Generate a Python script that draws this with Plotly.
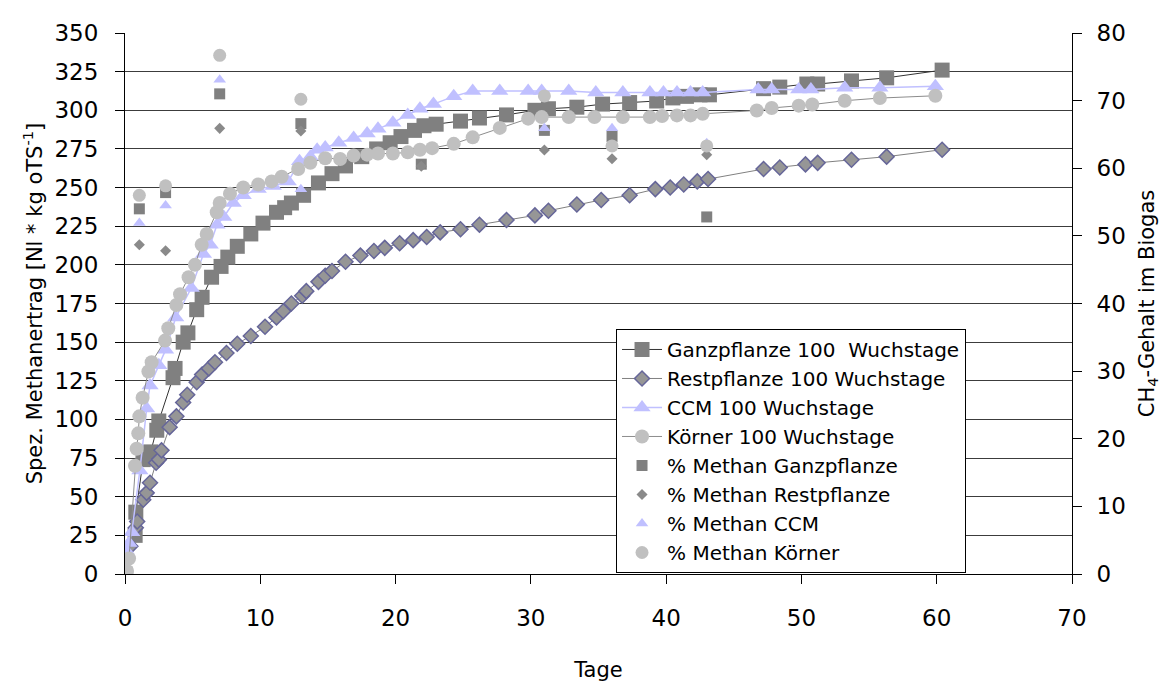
import plotly.graph_objects as go

# ---------------- data ----------------
ganz_x = [0, 0.75, 0.8, 1.35, 1.9, 2.35, 2.5, 3.55, 3.7, 4.3,
          4.65, 5.3, 5.7, 6.4, 7.1, 7.6, 8.3, 9.3, 10.2, 11.2,
          11.8, 12.3, 13.2, 14.3, 15.3, 16.3, 17.5, 18.6, 19.6, 20.4,
          21.4, 22.1, 23.0, 24.8, 26.2, 28.2, 30.3, 31.3, 33.4, 35.3,
          37.3, 39.3, 40.5, 41.5, 42.5, 43.2, 47.2, 48.4, 50.4, 51.2,
          53.7, 56.3, 60.4]
ganz_y = [0, 25, 40, 74, 79, 93, 99, 127, 133, 150,
          156, 171, 179, 192, 199, 205, 212, 220, 227, 234,
          237, 240, 245, 253, 259, 264, 270, 275, 279, 283,
          287, 290, 291, 293, 295, 297, 300, 301, 302, 304,
          305, 306, 308, 309, 310, 310, 314, 315, 317, 317,
          319, 321, 326]

rest_x = [0, 0.4, 0.8, 0.9, 1.35, 1.6, 1.85, 2.3, 2.5, 2.7,
          3.3, 3.8, 4.3, 4.6, 5.3, 5.7, 6.2, 6.65, 7.5, 8.3,
          9.3, 10.35, 11.2, 11.7, 12.3, 13.1, 13.4, 14.3, 14.8, 15.3,
          16.3, 17.4, 18.4, 19.2, 20.3, 21.3, 22.3, 23.3, 24.8, 26.2,
          28.2, 30.3, 31.3, 33.4, 35.2, 37.3, 39.2, 40.3, 41.3, 42.3,
          43.1, 47.2, 48.4, 50.3, 51.2, 53.7, 56.3, 60.4]
rest_y = [0, 18, 30, 34, 48, 52.5, 59, 72, 74, 80,
          95, 102, 111, 116, 124, 129, 133, 137, 143, 149,
          154, 160, 166, 170, 175, 180, 183, 189, 193, 196,
          202, 206, 209, 211, 214, 216, 218, 221, 223, 226,
          229, 232, 235, 239, 242, 245, 249, 250, 252, 254,
          255.5, 262, 263, 265, 266, 268, 270, 274.5]

ccm_x = [0, 0.1, 0.3, 0.5, 1.1, 1.6, 1.85, 2.5, 3.0, 3.75,
         4.9, 5.8, 6.3, 6.8, 7.3, 8.0, 8.74, 9.85, 10.96, 12.07,
         12.9, 13.7, 14.2, 14.8, 15.8, 16.9, 17.9, 18.7, 19.8, 20.9,
         21.8, 22.8, 24.3, 25.7, 27.7, 29.8, 30.8, 32.8, 34.8, 36.8,
         38.8, 39.8, 40.8, 41.8, 42.7, 46.8, 47.8, 49.8, 50.7, 53.2,
         55.8, 59.9]
ccm_y = [0, 15, 20, 27, 67, 107, 122, 135, 145, 166,
         185, 207, 213, 226, 231, 240, 245, 249, 251, 254,
         267, 270, 274.5, 276, 279, 282, 285, 288, 292, 297,
         301, 304, 309, 312.5, 312.5, 312.5, 312.5, 312.5, 311.5, 311.5,
         311.5, 311.5, 311.5, 311.5, 311.5, 313.5, 313.5, 313.5, 313.5, 314.5,
         314.5, 315.5]

koern_x = [0, 0.15, 0.3, 0.74, 0.86, 0.98, 1.06, 1.3, 1.73, 1.97,
           2.96, 3.2, 3.8, 4.07, 4.7, 5.17, 5.67, 6.04, 6.78, 7.0,
           7.76, 8.74, 9.85, 10.84, 11.58, 12.8, 13.7, 14.8, 15.9, 16.9,
           17.9, 18.7, 19.8, 20.9, 21.8, 22.7, 24.3, 25.7, 27.7, 29.8,
           30.8, 32.8, 34.7, 36.8, 38.8, 39.7, 40.8, 41.8, 42.7, 46.7,
           47.8, 49.8, 50.8, 53.2, 55.8, 59.9]
koern_y = [0, 2, 10, 70, 81, 91, 102, 114, 131, 137,
           151, 159, 174, 181, 192, 200, 213, 220, 234, 240,
           246, 250, 252, 254, 257, 262, 266, 269, 268.5, 270.7,
           271.3, 272, 272, 272.8, 274.5, 275.5, 278.3, 282.5, 288.6, 294.6,
           295.6, 295.6, 295.6, 295.6, 295.6, 296.3, 296.7, 296.7, 297.7, 299.9,
           301.5, 303, 303.7, 306.2, 307.9, 309.4]

meth_days = [1.06, 3.0, 7.0, 13.0, 21.9, 31.0, 36.0, 43.0]
meth_ganz = [54.0, 56.4, 71.0, 66.6, 60.6, 65.6, 64.7, 52.8]
meth_rest = [48.7, 47.8, 65.9, 65.5, 60.3, 62.7, 61.4, 62.0]
meth_ccm = [51.9, 54.5, 73.1, 56.9, None, 65.9, 65.9, 63.7]
meth_koern = [56.0, 57.4, 76.7, 70.2, None, 70.7, 63.3, 63.3]

x_ticks = [0, 10, 20, 30, 40, 50, 60, 70]
y_ticks = list(range(0, 351, 25))
y2_ticks = list(range(0, 81, 10))

FONT = "DejaVu Sans"

fig = go.Figure()

fig.add_trace(go.Scatter(
    x=ganz_x, y=ganz_y, mode="lines+markers",
    name="Ganzpflanze 100\u00a0 Wuchstage",
    line=dict(color="#333333", width=1),
    marker=dict(symbol="square", size=15, color="#808080",
                line=dict(width=0))))
fig.add_trace(go.Scatter(
    x=rest_x, y=rest_y, mode="lines+markers",
    name="Restpflanze 100 Wuchstage",
    line=dict(color="#808080", width=1),
    marker=dict(symbol="diamond", size=11.5, color="#969696",
                line=dict(width=1.5, color="#666699"))))
fig.add_trace(go.Scatter(
    x=ccm_x, y=ccm_y, mode="lines+markers",
    name="CCM 100 Wuchstage",
    line=dict(color="#C0C0FF", width=1.5),
    marker=dict(symbol="triangle-up", size=15, color="#C0C0FF",
                line=dict(width=0))))
fig.add_trace(go.Scatter(
    x=koern_x, y=koern_y, mode="lines+markers",
    name="Körner 100 Wuchstage",
    line=dict(color="#8c8c8c", width=1),
    marker=dict(symbol="circle", size=14, color="#C0C0C0",
                line=dict(width=0))))

fig.add_trace(go.Scatter(
    x=meth_days, y=meth_ganz, mode="markers", yaxis="y2",
    name="% Methan Ganzpflanze",
    marker=dict(symbol="square", size=11, color="#808080", line=dict(width=0))))
fig.add_trace(go.Scatter(
    x=meth_days, y=meth_rest, mode="markers", yaxis="y2",
    name="% Methan Restpflanze",
    marker=dict(symbol="diamond", size=8.5, color="#8a8a8a", line=dict(width=0))))
fig.add_trace(go.Scatter(
    x=meth_days, y=meth_ccm, mode="markers", yaxis="y2",
    name="% Methan CCM",
    marker=dict(symbol="triangle-up", size=11, color="#C0C0FF", line=dict(width=0))))
fig.add_trace(go.Scatter(
    x=meth_days, y=meth_koern, mode="markers", yaxis="y2",
    name="% Methan Körner",
    marker=dict(symbol="circle", size=13, color="#C0C0C0", line=dict(width=0))))

fig.update_layout(
    width=1160, height=681,
    margin=dict(l=117, r=96, t=16, b=113),
    paper_bgcolor="white", plot_bgcolor="white",
    font=dict(family=FONT, size=21, color="black"),
    showlegend=True,
    legend=dict(
        x=0.5185, y=0.4529, xanchor="left", yanchor="top",
        bgcolor="white", bordercolor="black", borderwidth=1,
        font=dict(family=FONT, size=20, color="black"),
        itemwidth=40, tracegroupgap=0,
    ),
    xaxis=dict(
        range=[0, 70], tickvals=x_ticks, ticktext=[str(v) for v in x_ticks],
        showgrid=False, zeroline=False,
        showline=True, linecolor="black", linewidth=1,
        ticks="outside", ticklen=9, tickcolor="black",
        tickfont=dict(family=FONT, size=23),
        ticklabelstandoff=14,
        title=dict(text="Tage", font=dict(family=FONT, size=21), standoff=32),
    ),
    yaxis=dict(
        range=[0, 350], tickvals=y_ticks, ticktext=[str(v) for v in y_ticks],
        showgrid=True, gridcolor="#3c3c3c", gridwidth=1,
        zeroline=False,
        showline=True, linecolor="black", linewidth=1,
        ticks="outside", ticklen=9, tickcolor="black",
        tickfont=dict(family=FONT, size=23),
        ticklabelstandoff=12,
        title=dict(text="Spez. Methanertrag [Nl * kg oTS<sup>-1</sup>]",
                   font=dict(family=FONT, size=21), standoff=6),
    ),
    yaxis2=dict(
        range=[0, 80], tickvals=y2_ticks, ticktext=[str(v) for v in y2_ticks],
        overlaying="y", side="right", anchor="x",
        showgrid=False, zeroline=False,
        showline=True, linecolor="black", linewidth=1,
        ticks="outside", ticklen=9, tickcolor="black",
        tickfont=dict(family=FONT, size=23),
        ticklabelstandoff=10,
        title=dict(text="CH<sub>4</sub>-Gehalt im Biogas",
                   font=dict(family=FONT, size=21), standoff=14),
    ),
)

fig.write_html("out.html")
